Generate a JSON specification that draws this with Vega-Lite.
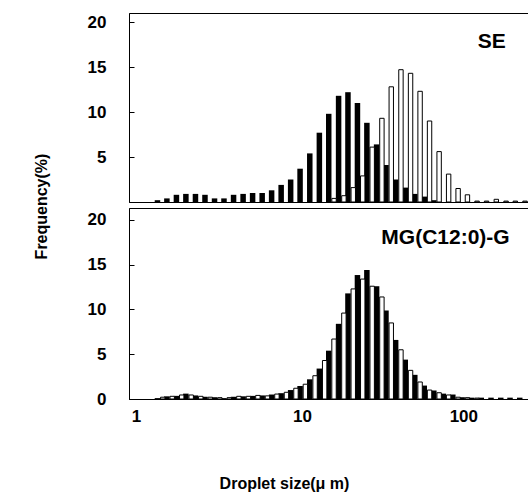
{
  "$schema": "https://vega.github.io/schema/vega-lite/v6.json",
  "background": "white",
  "padding": {"left": 32, "top": 12, "right": 0, "bottom": 0},
  "spacing": 6,
  "bounds": "flush",
  "config": {
    "font": "Liberation Sans",
    "view": {"stroke": "black", "strokeWidth": 1},
    "axis": {"grid": false, "domainColor": "black", "tickColor": "black", "labelColor": "black", "titleColor": "black", "labelFont": "Liberation Sans", "titleFont": "Liberation Sans", "labelFontWeight": "bold", "titleFontWeight": "bold", "labelFontSize": 17, "titleFontSize": 16}
  },
  "resolve": {"scale": {"x": "independent", "y": "independent"}},
  "datasets": {
    "bars": [
      {"panel": "SE", "series": "A", "size": 1.32, "freq": 0.2},
      {"panel": "SE", "series": "A", "size": 1.51, "freq": 0.4},
      {"panel": "SE", "series": "A", "size": 1.73, "freq": 0.8},
      {"panel": "SE", "series": "A", "size": 1.98, "freq": 0.9},
      {"panel": "SE", "series": "A", "size": 2.27, "freq": 0.9},
      {"panel": "SE", "series": "A", "size": 2.6, "freq": 0.8},
      {"panel": "SE", "series": "A", "size": 2.98, "freq": 0.4},
      {"panel": "SE", "series": "A", "size": 3.41, "freq": 0.4},
      {"panel": "SE", "series": "A", "size": 3.91, "freq": 0.8},
      {"panel": "SE", "series": "A", "size": 4.48, "freq": 0.9},
      {"panel": "SE", "series": "A", "size": 5.13, "freq": 1.0},
      {"panel": "SE", "series": "A", "size": 5.88, "freq": 1.0},
      {"panel": "SE", "series": "A", "size": 6.73, "freq": 1.3},
      {"panel": "SE", "series": "A", "size": 7.71, "freq": 1.9},
      {"panel": "SE", "series": "A", "size": 8.83, "freq": 2.5},
      {"panel": "SE", "series": "A", "size": 10.1, "freq": 3.7},
      {"panel": "SE", "series": "A", "size": 11.6, "freq": 5.4},
      {"panel": "SE", "series": "A", "size": 13.3, "freq": 7.7},
      {"panel": "SE", "series": "A", "size": 15.2, "freq": 9.8},
      {"panel": "SE", "series": "A", "size": 17.5, "freq": 11.8},
      {"panel": "SE", "series": "A", "size": 20.0, "freq": 12.2},
      {"panel": "SE", "series": "A", "size": 22.9, "freq": 11.0},
      {"panel": "SE", "series": "A", "size": 26.2, "freq": 8.8},
      {"panel": "SE", "series": "A", "size": 30.1, "freq": 6.4},
      {"panel": "SE", "series": "A", "size": 34.4, "freq": 4.1},
      {"panel": "SE", "series": "A", "size": 39.5, "freq": 2.5},
      {"panel": "SE", "series": "A", "size": 45.3, "freq": 1.6},
      {"panel": "SE", "series": "A", "size": 51.9, "freq": 0.9},
      {"panel": "SE", "series": "A", "size": 59.4, "freq": 0.6},
      {"panel": "SE", "series": "A", "size": 68.1, "freq": 0.2},
      {"panel": "SE", "series": "B", "size": 15.2, "freq": 0.4},
      {"panel": "SE", "series": "B", "size": 17.5, "freq": 0.7},
      {"panel": "SE", "series": "B", "size": 20.0, "freq": 1.6},
      {"panel": "SE", "series": "B", "size": 22.9, "freq": 2.9},
      {"panel": "SE", "series": "B", "size": 26.2, "freq": 6.1},
      {"panel": "SE", "series": "B", "size": 30.1, "freq": 9.3},
      {"panel": "SE", "series": "B", "size": 34.4, "freq": 12.8},
      {"panel": "SE", "series": "B", "size": 39.5, "freq": 14.7},
      {"panel": "SE", "series": "B", "size": 45.3, "freq": 14.3},
      {"panel": "SE", "series": "B", "size": 51.9, "freq": 12.3},
      {"panel": "SE", "series": "B", "size": 59.4, "freq": 9.0},
      {"panel": "SE", "series": "B", "size": 68.1, "freq": 5.6},
      {"panel": "SE", "series": "B", "size": 78.0, "freq": 3.1},
      {"panel": "SE", "series": "B", "size": 89.3, "freq": 1.5},
      {"panel": "SE", "series": "B", "size": 102, "freq": 0.8},
      {"panel": "SE", "series": "B", "size": 117, "freq": 0.1},
      {"panel": "SE", "series": "B", "size": 134, "freq": 0.1},
      {"panel": "SE", "series": "B", "size": 154, "freq": 0.3},
      {"panel": "SE", "series": "B", "size": 177, "freq": 0.1},
      {"panel": "SE", "series": "B", "size": 202, "freq": 0.1},
      {"panel": "SE", "series": "B", "size": 232, "freq": 0.1},
      {"panel": "MG", "series": "A", "size": 1.32, "freq": 0.1},
      {"panel": "MG", "series": "A", "size": 1.51, "freq": 0.3},
      {"panel": "MG", "series": "A", "size": 1.73, "freq": 0.35},
      {"panel": "MG", "series": "A", "size": 1.98, "freq": 0.6},
      {"panel": "MG", "series": "A", "size": 2.27, "freq": 0.4},
      {"panel": "MG", "series": "A", "size": 2.6, "freq": 0.25},
      {"panel": "MG", "series": "A", "size": 2.98, "freq": 0.2},
      {"panel": "MG", "series": "A", "size": 3.41, "freq": 0.1},
      {"panel": "MG", "series": "A", "size": 3.91, "freq": 0.25},
      {"panel": "MG", "series": "A", "size": 4.48, "freq": 0.3},
      {"panel": "MG", "series": "A", "size": 5.13, "freq": 0.35},
      {"panel": "MG", "series": "A", "size": 5.88, "freq": 0.4},
      {"panel": "MG", "series": "A", "size": 6.73, "freq": 0.5},
      {"panel": "MG", "series": "A", "size": 7.71, "freq": 0.65},
      {"panel": "MG", "series": "A", "size": 8.83, "freq": 1.0},
      {"panel": "MG", "series": "A", "size": 10.1, "freq": 1.45},
      {"panel": "MG", "series": "A", "size": 11.6, "freq": 2.2},
      {"panel": "MG", "series": "A", "size": 13.3, "freq": 3.4},
      {"panel": "MG", "series": "A", "size": 15.2, "freq": 5.4},
      {"panel": "MG", "series": "A", "size": 17.5, "freq": 8.4},
      {"panel": "MG", "series": "A", "size": 20.0, "freq": 11.8},
      {"panel": "MG", "series": "A", "size": 22.9, "freq": 13.85},
      {"panel": "MG", "series": "A", "size": 26.2, "freq": 14.4},
      {"panel": "MG", "series": "A", "size": 30.1, "freq": 12.6},
      {"panel": "MG", "series": "A", "size": 34.4, "freq": 9.9},
      {"panel": "MG", "series": "A", "size": 39.5, "freq": 6.6},
      {"panel": "MG", "series": "A", "size": 45.3, "freq": 4.4},
      {"panel": "MG", "series": "A", "size": 51.9, "freq": 2.7},
      {"panel": "MG", "series": "A", "size": 59.4, "freq": 1.5},
      {"panel": "MG", "series": "A", "size": 68.1, "freq": 0.95},
      {"panel": "MG", "series": "A", "size": 78.0, "freq": 0.6},
      {"panel": "MG", "series": "A", "size": 89.3, "freq": 0.5},
      {"panel": "MG", "series": "A", "size": 102, "freq": 0.2},
      {"panel": "MG", "series": "A", "size": 117, "freq": 0.15},
      {"panel": "MG", "series": "A", "size": 134, "freq": 0.15},
      {"panel": "MG", "series": "A", "size": 154, "freq": 0.15},
      {"panel": "MG", "series": "A", "size": 177, "freq": 0.15},
      {"panel": "MG", "series": "A", "size": 202, "freq": 0.15},
      {"panel": "MG", "series": "A", "size": 232, "freq": 0.15},
      {"panel": "MG", "series": "B", "size": 1.32, "freq": 0.2},
      {"panel": "MG", "series": "B", "size": 1.51, "freq": 0.3},
      {"panel": "MG", "series": "B", "size": 1.73, "freq": 0.45},
      {"panel": "MG", "series": "B", "size": 1.98, "freq": 0.45},
      {"panel": "MG", "series": "B", "size": 2.27, "freq": 0.3},
      {"panel": "MG", "series": "B", "size": 2.6, "freq": 0.2},
      {"panel": "MG", "series": "B", "size": 2.98, "freq": 0.15},
      {"panel": "MG", "series": "B", "size": 3.41, "freq": 0.15},
      {"panel": "MG", "series": "B", "size": 3.91, "freq": 0.3},
      {"panel": "MG", "series": "B", "size": 4.48, "freq": 0.3},
      {"panel": "MG", "series": "B", "size": 5.13, "freq": 0.4},
      {"panel": "MG", "series": "B", "size": 5.88, "freq": 0.35},
      {"panel": "MG", "series": "B", "size": 6.73, "freq": 0.55},
      {"panel": "MG", "series": "B", "size": 7.71, "freq": 0.75},
      {"panel": "MG", "series": "B", "size": 8.83, "freq": 1.2},
      {"panel": "MG", "series": "B", "size": 10.1, "freq": 1.65},
      {"panel": "MG", "series": "B", "size": 11.6, "freq": 2.6},
      {"panel": "MG", "series": "B", "size": 13.3, "freq": 4.3},
      {"panel": "MG", "series": "B", "size": 15.2, "freq": 6.7},
      {"panel": "MG", "series": "B", "size": 17.5, "freq": 9.6},
      {"panel": "MG", "series": "B", "size": 20.0, "freq": 12.3},
      {"panel": "MG", "series": "B", "size": 22.9, "freq": 13.4},
      {"panel": "MG", "series": "B", "size": 26.2, "freq": 12.6},
      {"panel": "MG", "series": "B", "size": 30.1, "freq": 11.4},
      {"panel": "MG", "series": "B", "size": 34.4, "freq": 8.5},
      {"panel": "MG", "series": "B", "size": 39.5, "freq": 5.5},
      {"panel": "MG", "series": "B", "size": 45.3, "freq": 3.2},
      {"panel": "MG", "series": "B", "size": 51.9, "freq": 1.9},
      {"panel": "MG", "series": "B", "size": 59.4, "freq": 1.0},
      {"panel": "MG", "series": "B", "size": 68.1, "freq": 0.7},
      {"panel": "MG", "series": "B", "size": 78.0, "freq": 0.45},
      {"panel": "MG", "series": "B", "size": 89.3, "freq": 0.2},
      {"panel": "MG", "series": "B", "size": 102, "freq": 0.15},
      {"panel": "MG", "series": "B", "size": 117, "freq": 0.1}
    ],
    "labels": [
      {"panel": "SE", "label": "SE", "size": 150, "freq": 17.1},
      {"panel": "MG", "label": "MG(C12:0)-G", "size": 77.5, "freq": 17.35}
    ]
  },
  "vconcat": [
    {
      "width": 400,
      "height": 189,
      "encoding": {
        "x": {"field": "size", "type": "quantitative", "scale": {"type": "log", "domain": [0.91, 237.6], "nice": false},
              "axis": {"labels": false, "ticks": false, "title": null}},
        "y": {"field": "freq", "type": "quantitative", "scale": {"domain": [0, 21], "nice": false, "zero": true},
              "axis": {"values": [5, 10, 15, 20], "tickSize": -5, "labelPadding": 28, "title": "Frequency(%)", "titleX": -80, "titleY": 193}}
      },
      "layer": [
        {"data": {"name": "bars"}, "transform": [{"filter": "datum.panel === 'SE' && datum.series === 'A'"}],
         "mark": {"type": "bar", "width": 5.5, "xOffset": -2.6, "color": "black", "stack": null}},
        {"data": {"name": "bars"}, "transform": [{"filter": "datum.panel === 'SE' && datum.series === 'B'"}],
         "mark": {"type": "bar", "width": 4.4, "xOffset": 2.7, "fill": "white", "stroke": "black", "strokeWidth": 1}},
        {"data": {"name": "labels"}, "transform": [{"filter": "datum.panel === 'SE'"}],
         "mark": {"type": "text", "font": "Liberation Sans", "fontWeight": "bold", "fontSize": 21, "align": "center", "baseline": "alphabetic", "color": "black"},
         "encoding": {"text": {"field": "label"}}}
      ]
    },
    {
      "width": 400,
      "height": 191,
      "encoding": {
        "x": {"field": "size", "type": "quantitative", "scale": {"type": "log", "domain": [0.91, 237.6], "nice": false},
              "axis": {"values": [1, 10, 100], "format": "d", "ticks": false, "labelFlush": false, "labelOverlap": false, "labelPadding": 9,
                       "labelAlign": {"condition": {"test": "datum.value === 1", "value": "right"}, "value": "center"},
                       "title": "Droplet size(μ m)", "titleX": 155, "titleY": 76}},
        "y": {"field": "freq", "type": "quantitative", "scale": {"domain": [0, 21.34], "nice": false, "zero": true},
              "axis": {"values": [0, 5, 10, 15, 20], "tickSize": -5, "labelPadding": 28, "title": null}}
      },
      "layer": [
        {"data": {"name": "bars"}, "transform": [{"filter": "datum.panel === 'MG' && datum.series === 'A'"}],
         "mark": {"type": "bar", "width": 5.5, "xOffset": -2.6, "color": "black", "stack": null}},
        {"data": {"name": "bars"}, "transform": [{"filter": "datum.panel === 'MG' && datum.series === 'B'"}],
         "mark": {"type": "bar", "width": 4.4, "xOffset": 2.7, "fill": "white", "stroke": "black", "strokeWidth": 1}},
        {"data": {"name": "labels"}, "transform": [{"filter": "datum.panel === 'MG'"}],
         "mark": {"type": "text", "font": "Liberation Sans", "fontWeight": "bold", "fontSize": 21, "align": "center", "baseline": "alphabetic", "color": "black"},
         "encoding": {"text": {"field": "label"}}}
      ]
    }
  ]
}
